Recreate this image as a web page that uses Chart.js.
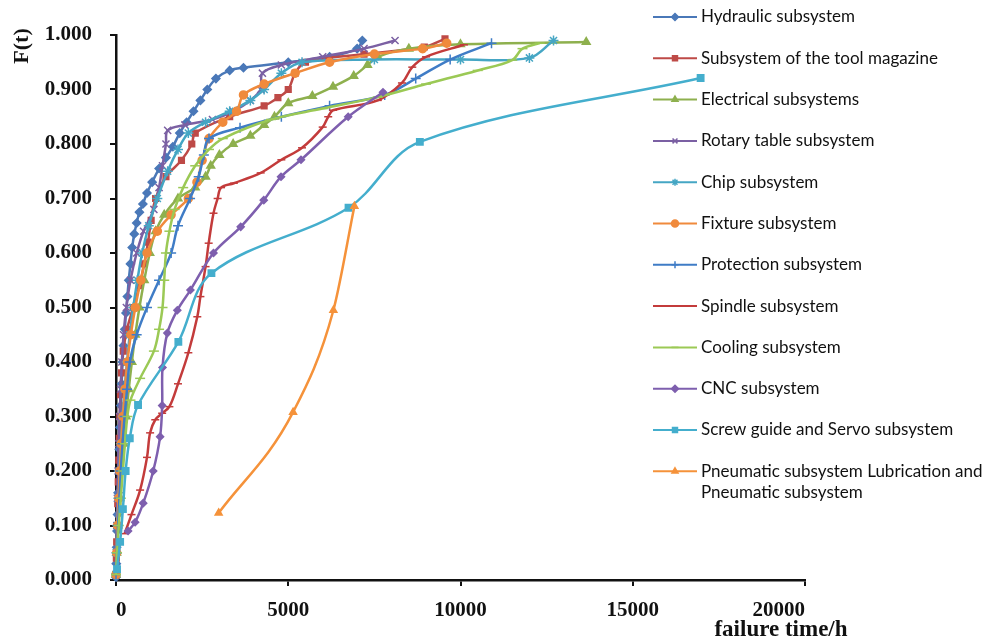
<!DOCTYPE html>
<html>
<head>
<meta charset="utf-8">
<title>F(t) of subsystems</title>
<style>
  html, body { margin: 0; padding: 0; background: #fff; }
</style>
</head>
<body>
<canvas id="myChart" width="988" height="640"></canvas>

<script src="https://cdn.jsdelivr.net/npm/chart.js@4.4.0/dist/chart.umd.min.js"></script>
<script>
// failure time (h) and F(t), one pair per subsystem
var hydT = [0, 10, 20, 30, 45, 60, 75, 95, 115, 140, 165, 190, 220, 255, 290, 330, 370, 420, 470, 530, 600, 680, 780, 900, 1050, 1250, 1450, 1650, 1850, 2050, 2250, 2450, 2650, 2900, 3300, 3700, 5000, 6200, 7000, 7150];
var hydF = [0.005, 0.03, 0.06, 0.09, 0.12, 0.16, 0.2, 0.24, 0.28, 0.32, 0.36, 0.4, 0.43, 0.46, 0.49, 0.52, 0.55, 0.58, 0.61, 0.635, 0.655, 0.675, 0.69, 0.71, 0.73, 0.755, 0.775, 0.795, 0.82, 0.84, 0.86, 0.88, 0.9, 0.92, 0.935, 0.94, 0.95, 0.96, 0.975, 0.99];

var tmT = [0, 10, 20, 35, 50, 65, 80, 95, 110, 130, 160, 210, 320, 500, 680, 820, 930, 1020, 1150, 1450, 1900, 2200, 2300, 3300, 4300, 4700, 5000, 5200, 5500, 7200, 8950, 9550];
var tmF = [0.01, 0.04, 0.07, 0.1, 0.14, 0.18, 0.22, 0.26, 0.3, 0.34, 0.38, 0.42, 0.46, 0.5, 0.54, 0.58, 0.62, 0.66, 0.7, 0.74, 0.77, 0.8, 0.82, 0.85, 0.87, 0.885, 0.9, 0.93, 0.95, 0.965, 0.978, 0.993];

var elT = [0, 20, 60, 110, 160, 220, 290, 370, 460, 560, 680, 820, 980, 1150, 1400, 1800, 2300, 2600, 2750, 3000, 3400, 3900, 4300, 4600, 5000, 5700, 6300, 6900, 7300, 7600, 8500, 10000, 13650];
var elF = [0.01, 0.05, 0.1, 0.15, 0.2, 0.25, 0.3, 0.35, 0.4, 0.45, 0.5, 0.55, 0.6, 0.64, 0.67, 0.7, 0.72, 0.74, 0.76, 0.78, 0.8, 0.815, 0.835, 0.85, 0.875, 0.888, 0.905, 0.925, 0.945, 0.96, 0.975, 0.983, 0.987];

var roT = [0, 10, 25, 40, 60, 80, 105, 135, 170, 220, 300, 420, 600, 800, 1100, 1250, 1350, 1450, 1500, 2000, 2800, 3400, 3900, 4200, 4250, 4800, 6000, 7200, 8100];
var roF = [0.01, 0.05, 0.1, 0.15, 0.2, 0.25, 0.3, 0.35, 0.4, 0.45, 0.5, 0.55, 0.6, 0.64, 0.68, 0.72, 0.76, 0.8, 0.825, 0.835, 0.845, 0.86, 0.88, 0.9, 0.93, 0.945, 0.96, 0.975, 0.99];

var chT = [0, 15, 40, 70, 100, 140, 190, 250, 320, 400, 500, 620, 760, 950, 1200, 1500, 1800, 2100, 2600, 3300, 3900, 4300, 4800, 5400, 7500, 10000, 12000, 12700];
var chF = [0.01, 0.05, 0.1, 0.15, 0.2, 0.25, 0.3, 0.35, 0.4, 0.45, 0.5, 0.55, 0.6, 0.65, 0.7, 0.75, 0.79, 0.82, 0.84, 0.86, 0.88, 0.9, 0.93, 0.95, 0.955, 0.955, 0.958, 0.99];

var fxT = [0, 20, 45, 75, 110, 150, 200, 260, 330, 430, 560, 720, 900, 1200, 1600, 2100, 2350, 2500, 2700, 3100, 3500, 3700, 4300, 5200, 6200, 7500, 8900, 9600];
var fxF = [0.01, 0.05, 0.1, 0.15, 0.2, 0.25, 0.3, 0.35, 0.4, 0.45, 0.5, 0.55, 0.6, 0.64, 0.67, 0.7, 0.73, 0.77, 0.81, 0.84, 0.86, 0.89, 0.91, 0.93, 0.95, 0.965, 0.975, 0.985];

var prT = [0, 25, 60, 100, 140, 190, 250, 320, 400, 600, 900, 1250, 1600, 1800, 2150, 2400, 2550, 2700, 3600, 4800, 6200, 7800, 8700, 9700, 10900];
var prF = [0.01, 0.05, 0.1, 0.15, 0.2, 0.25, 0.3, 0.35, 0.4, 0.45, 0.5, 0.55, 0.6, 0.65, 0.7, 0.74, 0.78, 0.81, 0.83, 0.85, 0.87, 0.89, 0.92, 0.955, 0.985];

var spT = [250, 450, 700, 900, 990, 1140, 1340, 1550, 1800, 2100, 2360, 2450, 2600, 2690, 2830, 2950, 3050, 3420, 4200, 4800, 5400, 6000, 6160, 6300, 7600, 8300, 8600, 9000, 10100];
var spF = [0.085, 0.12, 0.165, 0.225, 0.27, 0.294, 0.306, 0.318, 0.36, 0.417, 0.483, 0.52, 0.575, 0.618, 0.673, 0.70, 0.72, 0.728, 0.747, 0.771, 0.793, 0.831, 0.85, 0.862, 0.88, 0.912, 0.941, 0.96, 0.982];

var coT = [0, 30, 80, 140, 200, 260, 330, 420, 700, 1100, 1250, 1350, 1400, 1450, 1550, 1700, 1950, 2300, 2700, 3100, 4500, 6000, 7600, 9000, 10500, 11500, 11800, 12300];
var coF = [0.01, 0.05, 0.1, 0.15, 0.2, 0.25, 0.3, 0.33, 0.37, 0.42, 0.46, 0.5, 0.55, 0.6, 0.64, 0.68, 0.72, 0.76, 0.79, 0.81, 0.845, 0.865, 0.886, 0.91, 0.935, 0.954, 0.975, 0.985];

var cnT = [350, 555, 790, 1080, 1280, 1340, 1350, 1490, 1780, 2160, 2830, 3620, 4290, 4790, 5370, 6740, 7750];
var cnF = [0.09, 0.106, 0.141, 0.2, 0.263, 0.32, 0.39, 0.453, 0.495, 0.532, 0.6, 0.648, 0.697, 0.74, 0.771, 0.85, 0.895];

var sgT = [30, 120, 200, 280, 400, 640, 1810, 2770, 6750, 8820, 16970];
var sgF = [0.02, 0.07, 0.13, 0.2, 0.26, 0.321, 0.437, 0.563, 0.683, 0.804, 0.921];

var pnT = [2980, 5140, 6310, 6920];
var pnF = [0.123, 0.308, 0.495, 0.686];

var names = [
  'Hydraulic subsystem',
  'Subsystem of the tool magazine',
  'Electrical subsystems',
  'Rotary table subsystem',
  'Chip subsystem',
  'Fixture subsystem',
  'Protection subsystem',
  'Spindle subsystem',
  'Cooling subsystem',
  'CNC subsystem',
  'Screw guide and Servo subsystem',
  'Pneumatic subsystem Lubrication and Pneumatic subsystem'
];
// the last legend entry wraps onto two lines
var legendLines = names.map(function (n) { return [n]; });
legendLines[11] = ['Pneumatic subsystem Lubrication and', 'Pneumatic subsystem'];

var xTicks = [0, 5000, 10000, 15000, 20000];

var series = [
  [hydT, hydF, '#4a78b8', 'rectRot', 4],
  [tmT, tmF, '#be4a47', 'rect', 4],
  [elT, elF, '#8eb04e', 'triangle', 4.5],
  [roT, roF, '#7b60a3', 'crossRot', 5],
  [chT, chF, '#45a6c4', 'star', 5],
  [fxT, fxF, '#f08a3c', 'circle', 4],
  [prT, prF, '#3f7cc6', 'cross', 5],
  [spT, spF, '#c33b3b', 'line', 4],
  [coT, coF, '#9bc955', 'line', 5],
  [cnT, cnF, '#7e5fae', 'rectRot', 3.5],
  [sgT, sgF, '#44aecd', 'rect', 4.5],
  [pnT, pnF, '#f5923a', 'triangle', 4]
];

function toPoints(ts, fs) {
  var pts = [];
  for (var i = 0; i < ts.length; i++) pts.push({ x: ts[i], y: fs[i] });
  return pts;
}

var datasets = series.map(function (s, i) {
  var ds = {
    label: names[i],
    data: toPoints(s[0], s[1]),
    borderColor: s[2],
    backgroundColor: s[2],
    pointBackgroundColor: s[2],
    pointBorderColor: s[2],
    pointStyle: s[3],
    pointRadius: s[4],
    pointBorderWidth: 1.5,
    borderWidth: 2.5,
    tension: 0.35,
    fill: false,
    clip: false,
    order: series.length - i
  };
  // pneumatic curve is smooth and bends one way only
  if (i === 11) ds.cubicInterpolationMode = 'monotone';
  return ds;
});

var serif = '"Liberation Serif", "Times New Roman", serif';

var sideLegend = {
  id: 'sideLegend',
  afterDraw: function (chart) {
    var ctx = chart.ctx;
    ctx.save();
    chart.data.datasets.forEach(function (ds, i) {
      var y = 17 + i * 41.3;
      ctx.strokeStyle = ds.borderColor;
      ctx.lineWidth = 2;
      ctx.beginPath();
      ctx.moveTo(653, y);
      ctx.lineTo(697, y);
      ctx.stroke();
      ctx.fillStyle = ds.pointBackgroundColor;
      ctx.strokeStyle = ds.pointBorderColor;
      ctx.lineWidth = 1.5;
      Chart.helpers.drawPoint(ctx, { pointStyle: ds.pointStyle, radius: 3.5, rotation: 0, borderWidth: 1.5 }, 675, y);
      ctx.fillStyle = '#111';
      ctx.font = '17px Lato';
      ctx.textBaseline = 'middle';
      ctx.textAlign = 'left';
      legendLines[i].forEach(function (t, k) {
        ctx.fillText(t, 701, y + k * 21);
      });
    });

    // axis titles
    ctx.fillStyle = '#111';
    ctx.font = 'bold 23px ' + serif;
    ctx.textAlign = 'center';
    ctx.textBaseline = 'middle';
    ctx.fillText('failure time/h', 781, 630);
    ctx.font = 'bold 22px ' + serif;
    ctx.translate(22, 46);
    ctx.rotate(-Math.PI / 2);
    ctx.fillText('F(t)', 0, 0);
    ctx.restore();
  }
};

var ctx = document.getElementById('myChart').getContext('2d');
var chart = new Chart(ctx, {
  type: 'line',
  data: { datasets: datasets },
  options: {
    responsive: false,
    animation: false,
    devicePixelRatio: 1,
    layout: { padding: { left: 0, top: 35, right: 183, bottom: 0 } },
    plugins: {
      legend: { display: false },
      tooltip: { enabled: false },
      title: { display: false }
    },
    scales: {
      x: {
        type: 'linear',
        min: 0,
        max: 20000,
        afterFit: function (scale) { scale.height = 60; },
        afterBuildTicks: function (scale) {
          scale.ticks = xTicks.map(function (v) { return { value: v }; });
        },
        border: { color: '#111', width: 2.5 },
        grid: { drawOnChartArea: false, drawTicks: true, tickLength: 6, color: '#111', lineWidth: 2 },
        ticks: {
          color: '#111',
          padding: 12,
          maxRotation: 0,
          align: 'inner',
          font: { family: serif, size: 21, weight: 'bold' },
          callback: function (v) { return String(v); }
        }
      },
      y: {
        min: 0,
        max: 1,
        afterFit: function (scale) { scale.width = 116; },
        border: { color: '#111', width: 2.5 },
        grid: { drawOnChartArea: false, drawTicks: true, tickLength: 6, color: '#111', lineWidth: 2 },
        ticks: {
          stepSize: 0.1,
          color: '#111',
          padding: 18,
          font: { family: serif, size: 21, weight: 'bold' },
          callback: function (v) { return Number(v).toFixed(3); }
        }
      }
    }
  },
  plugins: [sideLegend]
});
</script>
</body>
</html>
